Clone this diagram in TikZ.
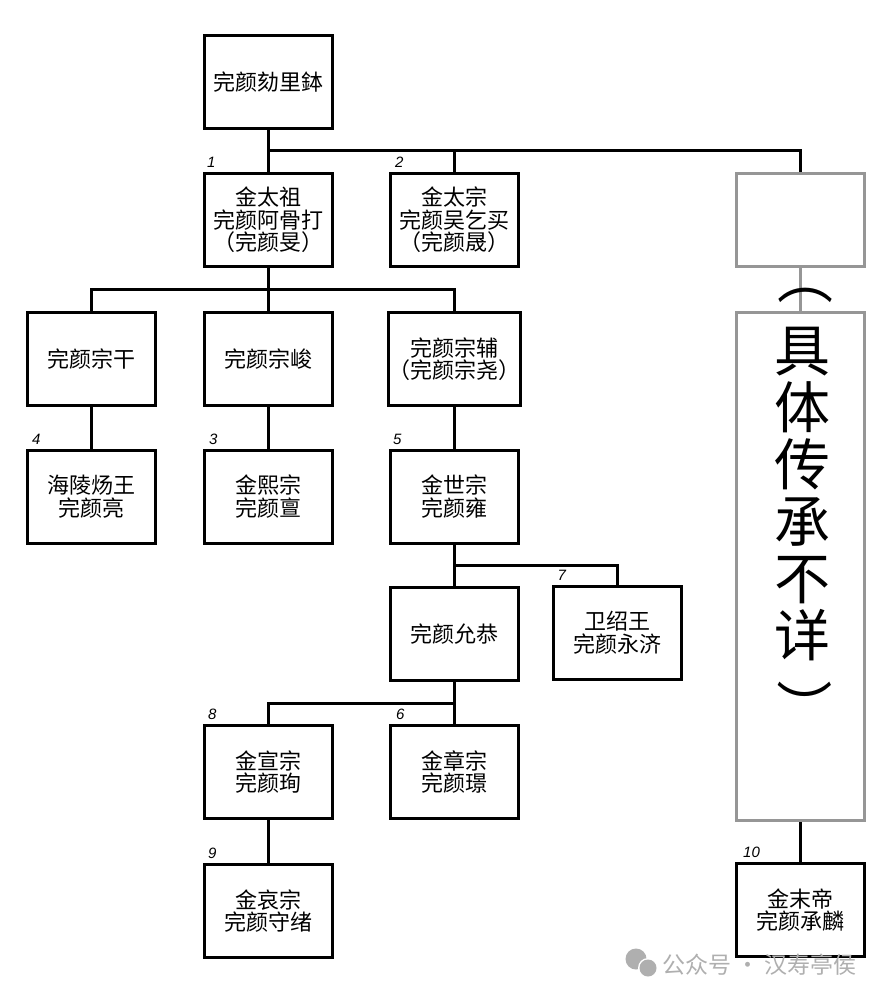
\documentclass[tikz,border=0pt]{standalone}
\usepackage{graphicx}
\usepackage{fontspec}
\setmainfont{Noto Sans CJK SC}
\newfontfamily\numfont{Liberation Sans}
\definecolor{boxgray}{RGB}{150,150,150}
\definecolor{markgray}{RGB}{175,175,175}
\begin{document}
\begin{tikzpicture}[x=1pt,y=-1pt,
  box/.style={draw, line width=3pt, minimum width=128pt, minimum height=93pt, inner sep=0pt, align=center, font=\fontsize{22}{22.5}\selectfont},
  gbox/.style={box, draw=boxgray},
  link/.style={line width=3pt},
  num/.style={font=\numfont\itshape\fontsize{15}{15}\selectfont, anchor=south west, inner sep=0pt},
  bigtext/.style={font=\fontsize{56}{57}\selectfont, align=center, inner sep=0pt},
  vparen/.style={font=\fontsize{56}{56}\selectfont, inner sep=0pt}]
\useasboundingbox[fill=white] (0,0) rectangle (890,1000);

\node[box] (top) at (268.5,82) {完颜劾里鉢};
\node[box] (a1) at (268.5,220) {金太祖\\完颜阿骨打\\（完颜旻）};
\node[box] (a2) at (454.5,220) {金太宗\\完颜吴乞买\\（完颜晟）};
\node[gbox] (g1) at (800.5,220) {};
\node[box] (b1) at (91.5,359) {完颜宗干};
\node[box] (b2) at (268.5,359) {完颜宗峻};
\node[box] (b3) at (454.5,359) {完颜宗辅\\（完颜宗尧）};
\node[gbox, minimum height=508pt] (g2) at (800.5,566.5) {};
\node[box] (c1) at (91.5,496.5) {海陵炀王\\完颜亮};
\node[box] (c2) at (268.5,496.5) {金熙宗\\完颜亶};
\node[box] (c3) at (454.5,496.5) {金世宗\\完颜雍};
\node[box] (d1) at (454.5,634) {完颜允恭};
\node[box] (d2) at (617,632.5) {卫绍王\\完颜永济};
\node[box] (e1) at (268.5,772) {金宣宗\\完颜珣};
\node[box] (e2) at (454.5,772) {金章宗\\完颜璟};
\node[box] (f1) at (268.5,911) {金哀宗\\完颜守绪};
\node[box] (f2) at (800.5,910) {金末帝\\完颜承麟};

% connectors
\path (top.south) -- (a1.north) coordinate[midway] (busA);
\draw[link] (top.south) -- (a1.north);
\draw[link] (busA) -| (g1.north);
\draw[link] (busA -| a2.north) -- (a2.north);

\path (a1.south) -- (b2.north) coordinate[midway] (busB);
\draw[link] (a1.south) -- (b2.north);
\draw[link] (b1.north) |- (busB) -| (b3.north);

\draw[link, draw=boxgray] (g1.south) -- (g2.north);
\draw[link] (g2.south) -- (f2.north);

\draw[link] (b1.south) -- (c1.north);
\draw[link] (b2.south) -- (c2.north);
\draw[link] (b3.south) -- (c3.north);

\path (c3.south) -- (d1.north) coordinate[midway] (busC);
\draw[link] (c3.south) -- (d1.north);
\draw[link] (busC) -| (d2.north);

\path (d1.south) -- (e2.north) coordinate[midway] (busD);
\draw[link] (d1.south) -- (e2.north);
\draw[link] (busD) -| (e1.north);

\draw[link] (e1.south) -- (f1.north);

% numbers
\node[num] (n1) at ([xshift=4pt,yshift=4pt]a1.north west) {1};
\node[num] (n2) at ([xshift=6pt,yshift=4pt]a2.north west) {2};
\node[num] (n4) at ([xshift=6pt,yshift=4pt]c1.north west) {4};
\node[num] (n3) at ([xshift=6pt,yshift=4pt]c2.north west) {3};
\node[num] (n5) at ([xshift=4pt,yshift=4pt]c3.north west) {5};
\node[num] (n7) at ([xshift=6pt,yshift=4pt]d2.north west) {7};
\node[num] (n8) at ([xshift=5pt,yshift=4pt]e1.north west) {8};
\node[num] (n6) at ([xshift=7pt,yshift=4pt]e2.north west) {6};
\node[num] (n9) at ([xshift=5pt,yshift=4pt]f1.north west) {9};
\node[num] (n10) at ([xshift=8pt,yshift=4pt]f2.north west) {10};

% vertical text
\node[bigtext] (gt) at (802.5,494) {具\\体\\传\\承\\不\\详};
\node[vparen] (pl) at (805,295) {︵};
\node[vparen] (pr) at (805,707) {\rotatebox{-90}{）}};

% watermark
\fill[markgray] (636,959) circle (10.5);
\fill[white] (648,968) circle (10);
\fill[markgray] (648,968) circle (8.5);
\node[font=\fontsize{23}{23}\selectfont, text=markgray, anchor=west, inner sep=0pt] (wm) at (662,965) {公众号 · 汉寿亭侯};
\end{tikzpicture}
\end{document}
